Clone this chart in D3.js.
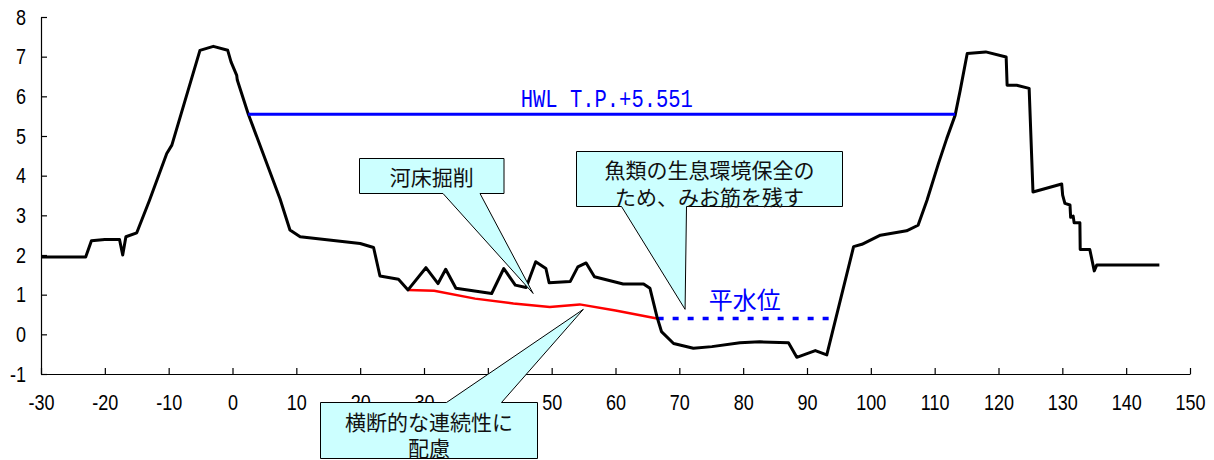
<!DOCTYPE html>
<html>
<head>
<meta charset="utf-8">
<script src="https://cdn.jsdelivr.net/npm/d3@7"></script>
<style>
html,body{margin:0;padding:0;background:#fff;}
svg{display:block;}
.tick text{font-family:"Liberation Sans",Arial,sans-serif;font-size:18px;fill:#000;}
.callout text{font-family:"Noto Sans CJK JP","Noto Sans CJK SC",sans-serif;font-size:21px;fill:#111;}
</style>
</head>
<body>
<svg id="chart" width="1214" height="460"></svg>
<script>
// ---- data ----
const xTicks = [-30,-20,-10,0,10,20,30,40,50,60,70,80,90,100,110,120,130,140,150];
const yTicks = [-1,0,1,2,3,4,5,6,7,8];

// existing cross-section profile (distance, elevation)
const profileX = [-30,-23.0,-22.1,-20.0,-17.7,-17.2,-16.7,-15.0,-13.0,-10.3,-9.5,-5.1,-3.0,-0.75,-0.23,0.66,0.75,2.48,7.44,9.0,10.6,20.0,22.1,23.1,26.0,27.5,30.3,32.2,33.4,35.0,40.6,42.5,44.3,46.0,47.5,49.1,49.6,52.9,54.1,55.4,56.7,61.2,64.4,65.4,66.5,67.2,69.1,72.2,75.1,79.5,82.6,87.1,88.4,91.3,93.1,97.3,98.6,101.5,105.6,107.4,108.8,110.6,111.9,113.2,114.0,115.1,118.0,121.2,121.35,122.85,124.8,125.4,129.9,130.05,130.4,131.2,131.3,131.7,131.85,132.75,132.8,134.3,135.0,135.4,145.2];
const profileY = [1.95,1.95,2.36,2.39,2.39,2.0,2.46,2.56,3.38,4.56,4.77,7.16,7.26,7.16,6.87,6.53,6.41,5.55,3.42,2.63,2.46,2.29,2.19,1.47,1.39,1.12,1.68,1.28,1.64,1.16,1.03,1.66,1.24,1.18,1.83,1.66,1.30,1.33,1.70,1.80,1.45,1.27,1.27,1.16,0.44,0.07,-0.23,-0.35,-0.31,-0.21,-0.19,-0.21,-0.58,-0.41,-0.52,2.21,2.27,2.50,2.61,2.75,3.38,4.31,4.94,5.52,6.15,7.08,7.12,6.99,6.28,6.28,6.20,3.59,3.79,3.51,3.30,3.26,2.95,2.98,2.81,2.81,2.14,2.14,1.60,1.75,1.75];

// planned excavation line
const designX = [27.5,31.6,38.0,44.0,49.7,54.4,60.0,66.5];
const designY = [1.12,1.10,0.90,0.78,0.69,0.755,0.60,0.40];

// high water level
const hwlLevel = 5.551;
const hwlRange = [2.45,113.2];
const hwlLabel = "HWL T.P.+5.551";

// normal water level
const nwlLevel = 0.40;
const nwlRange = [66.6,94.1];
const nwlLabel = "平水位";

// callouts: tip in data coordinates
const calloutLines = [["河床掘削"],["魚類の生息環境保全の","ため、みお筋を残す"],["横断的な連続性に","配慮"]];
const calloutTips = [[47.1,1.03],[70.9,0.63],[54.96,0.63]];

// ---- layout ----
const svg = d3.select("#chart");
const x = d3.scaleLinear().domain([-30,150]).range([41,1190]);
const y = d3.scaleLinear().domain([-1,8]).range([374,17]);
const stretch = 1.2;
const fmt = d => String(d);

// callout boxes (pixel layout)
const calloutBoxes = [
  {x0:359.5,x1:504,y0:158.5,y1:193.5,side:"bottom",b0:443,b1:480,lineY:[176]},
  {x0:576.5,x1:842.5,y0:151.5,y1:206.5,side:"bottom",b0:621.5,b1:686.5,lineY:[169,196]},
  {x0:320.5,x1:537.5,y0:402.5,y1:458.5,side:"top",b0:446.5,b1:501.5,lineY:[421,447]}
];

// axes
const gx = svg.append("g").attr("transform",`translate(0,${y(-1)})`)
  .call(d3.axisBottom(x).tickValues(xTicks).tickFormat(fmt).tickSize(-6).tickSizeOuter(0));
gx.selectAll(".tick text").attr("y",36/stretch).attr("dy",null)
  .attr("transform",`scale(1,${stretch})`);
const gy = svg.append("g").attr("transform",`translate(${x(-30)},0)`)
  .call(d3.axisLeft(y).tickValues(yTicks).tickFormat(fmt).tickSize(-6).tickSizeOuter(0));
gy.selectAll(".tick text").attr("x",-15).attr("y",7/stretch).attr("dy",null)
  .attr("transform",`scale(1,${stretch})`);
svg.selectAll(".domain, .tick line").attr("stroke","#000").attr("stroke-width",1.2);

const line = d3.line().x(d=>x(d[0])).y(d=>y(d[1]));

// design line (red)
svg.append("path").datum(designX.map((v,i)=>[v,designY[i]]))
  .attr("d",line).attr("fill","none").attr("stroke","#ff0000").attr("stroke-width",2.5);

// normal water level (dashed blue)
svg.append("path").datum(nwlRange.map(v=>[v,nwlLevel]))
  .attr("d",line).attr("fill","none").attr("stroke","#0000ff").attr("stroke-width",3.5)
  .attr("stroke-dasharray","6,9");

// profile
svg.append("path").datum(profileX.map((v,i)=>[v,profileY[i]]))
  .attr("d",line).attr("fill","none").attr("stroke","#000").attr("stroke-width",3)
  .attr("stroke-linejoin","round");

// HWL
svg.append("path").datum(hwlRange.map(v=>[v,hwlLevel]))
  .attr("d",line).attr("fill","none").attr("stroke","#0000ff").attr("stroke-width",3);
const hwlStretch = 1.22;
svg.append("text").attr("x",x(45.15)).attr("y",(y(hwlLevel)-7)/hwlStretch)
  .attr("transform",`scale(1,${hwlStretch})`)
  .attr("font-family","'Liberation Mono','DejaVu Sans Mono',monospace")
  .attr("font-size",20.5).attr("fill","#0000ff").text(hwlLabel);

svg.append("text").attr("x",x(74.6)).attr("y",y(nwlLevel)-9)
  .attr("font-family","'Noto Sans CJK JP',sans-serif").attr("font-size",24)
  .attr("fill","#0000ff").text(nwlLabel);

// callouts
calloutBoxes.forEach((b,i)=>{
  const tip=[x(calloutTips[i][0]),y(calloutTips[i][1])];
  const p=d3.path();
  if(b.side==="bottom"){
    p.moveTo(b.x0,b.y0);p.lineTo(b.x1,b.y0);p.lineTo(b.x1,b.y1);p.lineTo(b.b1,b.y1);
    p.lineTo(tip[0],tip[1]);p.lineTo(b.b0,b.y1);p.lineTo(b.x0,b.y1);p.closePath();
  } else {
    p.moveTo(b.x0,b.y0);p.lineTo(b.b0,b.y0);p.lineTo(tip[0],tip[1]);p.lineTo(b.b1,b.y0);
    p.lineTo(b.x1,b.y0);p.lineTo(b.x1,b.y1);p.lineTo(b.x0,b.y1);p.closePath();
  }
  const g=svg.append("g").attr("class","callout");
  g.append("path").attr("d",p.toString()).attr("fill","#ccffff").attr("stroke","#000").attr("stroke-width",1);
  calloutLines[i].forEach((t,j)=>{
    g.append("text").attr("x",(b.x0+b.x1)/2).attr("y",b.lineY[j])
      .attr("text-anchor","middle").attr("dominant-baseline","central").text(t);
  });
});
</script>
</body>
</html>
